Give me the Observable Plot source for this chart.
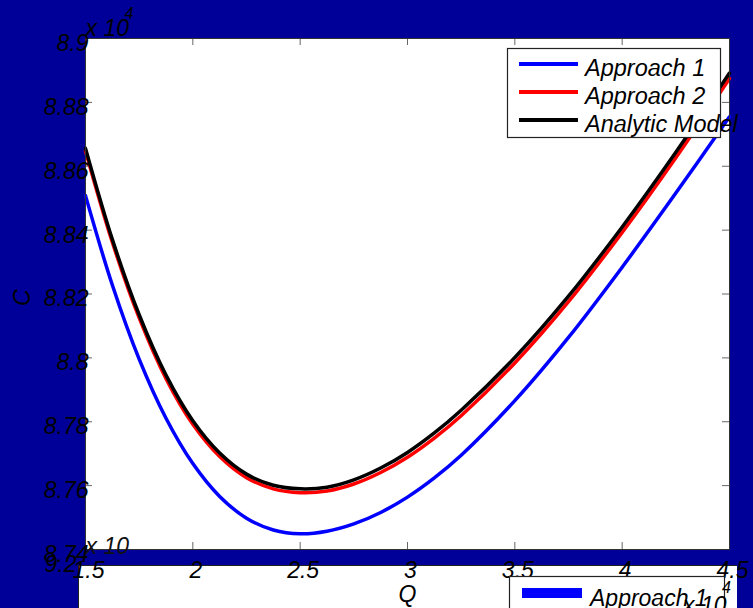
<!DOCTYPE html>
<html>
<head>
<meta charset="utf-8">
<script src="https://cdn.jsdelivr.net/npm/d3@7"></script>
<script src="https://cdn.jsdelivr.net/npm/@observablehq/plot@0.6"></script>
<style>
  html, body { margin: 0; padding: 0; background: #000099; }
  #wrap { position: relative; width: 753px; height: 608px; overflow: hidden; background: #000099;
          font-family: "Liberation Sans", Arial, sans-serif; font-style: italic; }
  #lower { position: absolute; left: 78px; top: 565px; width: 659px; height: 60px; background: #fff;
           border-top: 1px solid #222; border-left: 1px solid #222; box-sizing: border-box; }
  #chart { position: absolute; left: 0; top: 0; }
  #overlay { position: absolute; left: 0; top: 0; pointer-events: none; }
</style>
</head>
<body>
<div id="wrap">
  <div id="lower"></div>
  <div id="chart"></div>
  <svg id="overlay" width="753" height="608"></svg>
</div>
<script>
// ---- data (C in units of 10^4) ----
const Q = [1.5, 1.625, 1.75, 1.875, 2.0, 2.125, 2.25, 2.375, 2.5, 2.625, 2.75, 2.875, 3.0, 3.125, 3.25, 3.5, 3.75, 4.0, 4.25, 4.5];
const approach1 = [8.8508, 8.8228, 8.7996, 8.7811, 8.7669, 8.7566, 8.7498, 8.7461, 8.7449, 8.7457, 8.7480, 8.7516, 8.7564, 8.7624, 8.7695, 8.7866, 8.8064, 8.8284, 8.8516, 8.8755];
const approach2 = [8.8648, 8.8362, 8.8125, 8.7935, 8.7792, 8.7691, 8.7625, 8.7590, 8.7578, 8.7583, 8.7605, 8.7641, 8.7689, 8.7749, 8.7819, 8.7984, 8.8176, 8.8393, 8.8627, 8.8875];
const analytic  = [8.8656, 8.8371, 8.8135, 8.7946, 8.7803, 8.7702, 8.7636, 8.7601, 8.7590, 8.7595, 8.7618, 8.7655, 8.7704, 8.7765, 8.7836, 8.8001, 8.8193, 8.8410, 8.8644, 8.8892];
const seriesNames = ["Approach 1", "Approach 2", "Analytic Model"];
const seriesColors = ["#0000ff", "#ff0000", "#000000"];
const xTicks = [1.5, 2, 2.5, 3, 3.5, 4, 4.5];
const xTickLabels = ["1.5", "2", "2.5", "3", "3.5", "4", "4.5"];
const yTicks = [8.74, 8.76, 8.78, 8.8, 8.82, 8.84, 8.86, 8.88, 8.9];
const yTickLabels = ["8.74", "8.76", "8.78", "8.8", "8.82", "8.84", "8.86", "8.88", "8.9"];

const rows = [approach1, approach2, analytic].flatMap((vals, i) =>
  vals.map((c, j) => ({ series: seriesNames[i], Q: Q[j], C: c })));

const W = 753, H = 608, mL = 85, mR = 24, mT = 38, mB = 59;
const innerW = W - mL - mR, innerH = H - mT - mB;
const tick = 7;
const FS = 23;

const chart = Plot.plot({
  width: W, height: H,
  marginLeft: mL, marginRight: mR, marginTop: mT, marginBottom: mB,
  style: { background: "transparent", fontFamily: "'Liberation Sans', Arial, sans-serif",
           fontStyle: "italic", fontSize: FS + "px", color: "#000", overflow: "visible" },
  x: { domain: [1.5, 4.5] },
  y: { domain: [8.74, 8.9] },
  color: { domain: seriesNames, range: seriesColors },
  marks: [
    Plot.frame({ fill: "white", stroke: "none" }),
    // inward ticks on all four sides
    Plot.tickX(xTicks, { x: d => d, insetTop: innerH - tick, stroke: "#666", strokeWidth: 1 }),
    Plot.tickX(xTicks, { x: d => d, insetBottom: innerH - tick, stroke: "#666", strokeWidth: 1 }),
    Plot.tickY(yTicks, { y: d => d, insetRight: innerW - tick, stroke: "#666", strokeWidth: 1 }),
    Plot.tickY(yTicks, { y: d => d, insetLeft: innerW - tick, stroke: "#666", strokeWidth: 1 }),
    Plot.line(rows, { x: "Q", y: "C", z: "series", stroke: "series", strokeWidth: 3.5, curve: "catmull-rom" }),
    Plot.frame({ stroke: "#333", strokeWidth: 1 }),
    Plot.axisX(xTicks, { anchor: "bottom", tickSize: 0, tickPadding: 12, dx: 3,
      tickFormat: (d, i) => xTickLabels[i], fontSize: FS, label: null }),
    Plot.axisY(yTicks, { anchor: "left", tickSize: 0, tickPadding: 0, dx: 3, dy: 5,
      tickFormat: (d, i) => yTickLabels[i], fontSize: FS, label: null }),
    Plot.text(["Q"], { frameAnchor: "bottom", dy: 52, fontSize: FS }),
    Plot.text(["C"], { frameAnchor: "left", dx: -63, dy: 12, rotate: -90, fontSize: FS }),
    Plot.text(["x 10"], { frameAnchor: "top-left", textAnchor: "start", dx: 0, dy: -19, fontSize: FS }),
    Plot.text(["4"], { frameAnchor: "top-left", textAnchor: "start", dx: 39, dy: -31, fontSize: 16 }),
    Plot.text(["x 10"], { frameAnchor: "bottom-left", textAnchor: "start", dx: 0, dy: 4, fontSize: FS, fill: "#111" }),
    Plot.text(["9.2"], { frameAnchor: "bottom-left", textAnchor: "start", dx: -41, dy: 22, fontSize: FS })
  ]
});
document.getElementById("chart").appendChild(chart);

// ---- legends (overlay) ----
const ov = d3.select("#overlay");
const lg = ov.append("g");
lg.append("rect").attr("x", 507.5).attr("y", 48.5).attr("width", 213).attr("height", 89)
  .attr("fill", "white").attr("stroke", "#222").attr("stroke-width", 1.2);
seriesNames.forEach((name, i) => {
  const y = 64 + i * 28;
  lg.append("line").attr("x1", 519).attr("x2", 578).attr("y1", y).attr("y2", y)
    .attr("stroke", seriesColors[i]).attr("stroke-width", 4);
  lg.append("text").attr("x", 585).attr("y", y + 12)
    .attr("font-family", "'Liberation Sans', Arial, sans-serif").attr("font-style", "italic")
    .attr("font-size", 23.5).attr("fill", "#000").text(name);
});

// lower (overlapping) figure fragment
const lo = ov.append("g");
lo.append("rect").attr("x", 509.5).attr("y", 576.5).attr("width", 215).attr("height", 60)
  .attr("fill", "white").attr("stroke", "#222").attr("stroke-width", 1.2);
lo.append("line").attr("x1", 522).attr("x2", 582).attr("y1", 593).attr("y2", 593)
  .attr("stroke", "#0000ff").attr("stroke-width", 10);
lo.append("text").attr("x", 590).attr("y", 606)
  .attr("font-family", "'Liberation Sans', Arial, sans-serif").attr("font-style", "italic")
  .attr("font-size", 23).attr("fill", "#000").text(seriesNames[0]);
lo.append("text").attr("x", 683).attr("y", 613)
  .attr("font-family", "'Liberation Sans', Arial, sans-serif").attr("font-style", "italic")
  .attr("font-size", 23).attr("fill", "#000").text("x 10");
lo.append("text").attr("x", 722).attr("y", 593)
  .attr("font-family", "'Liberation Sans', Arial, sans-serif").attr("font-style", "italic")
  .attr("font-size", 16).attr("fill", "#000").text("4");
</script>
</body>
</html>
